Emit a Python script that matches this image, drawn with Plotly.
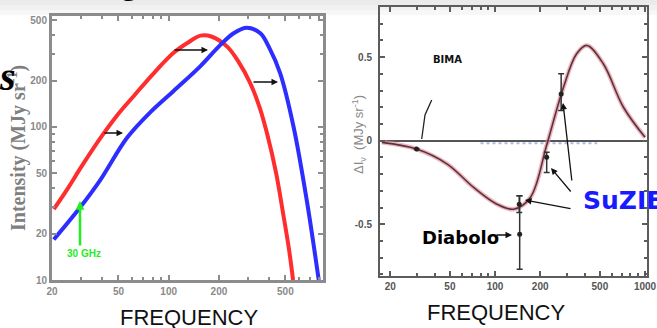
import math
import plotly.graph_objects as go

W, H = 657, 328

# ---------------- data: left panel (intensity spectra) ----------------
freq_red = [20.5, 25, 30, 40, 50, 62, 80, 107, 130, 155, 180, 224, 260, 308, 350, 388, 440, 488, 525, 556]
int_red = [29, 40, 55, 88, 122, 160, 220, 305, 355, 395, 390, 335, 270, 193, 135, 91, 50, 26, 16, 10]

freq_blue = [20.5, 29.6, 38.9, 56.3, 77.7, 107, 155, 202, 245, 294, 354, 400, 465, 560, 672, 792]
int_blue = [18.4, 30, 45, 85, 125, 172, 250, 340, 410, 445, 410, 330, 225, 100, 33, 10]

left_xticks = [20, 50, 100, 200, 500]
left_xminor = [30, 40, 60, 70, 80, 90, 300, 400, 600, 700, 800]
left_yticks = [10, 20, 50, 100, 200, 500]
left_yminor = [30, 40, 60, 70, 80, 90, 300, 400]

# ---------------- data: right panel (SZ decrement) ----------------
freq_sz = [17.6, 30, 48, 72, 103, 133, 172, 222, 286, 350, 410, 527, 718, 1000]
dI_sz = [-0.01, -0.05, -0.14, -0.28, -0.38, -0.41, -0.34, -0.02, 0.32, 0.52, 0.57, 0.46, 0.20, 0.02]

freq_kin = [80, 480]
dI_kin = [-0.015, -0.015]

obs_freq = [30, 146, 145, 221, 276]
obs_val = [-0.05, -0.56, -0.38, -0.10, 0.28]
obs_plus = [0.0, 0.23, 0.05, 0.03, 0.12]
obs_minus = [0.0, 0.21, 0.05, 0.09, 0.10]

right_xticks = [20, 50, 100, 200, 500, 1000]
right_xminor = [30, 40, 60, 70, 80, 90, 300, 400, 600, 700, 800, 900]
right_yticks = [-0.5, 0, 0.5]
right_yminor = [-0.8, -0.7, -0.6, -0.4, -0.3, -0.2, -0.1, 0.1, 0.2, 0.3, 0.4, 0.6, 0.7, 0.8]


def px(x):
    return x / W


def py(y):
    return 1 - y / H


fig = go.Figure()

# left curves
fig.add_trace(go.Scatter(x=freq_red, y=int_red, mode="lines", line=dict(color="rgb(255,45,45)", width=4, shape="spline"),
                         xaxis="x", yaxis="y"))
fig.add_trace(go.Scatter(x=freq_blue, y=int_blue, mode="lines", line=dict(color="rgb(45,45,255)", width=4, shape="spline"),
                         xaxis="x", yaxis="y"))

# right curves
fig.add_trace(go.Scatter(x=freq_kin, y=dI_kin, mode="lines", line=dict(color="rgba(110,130,200,0.55)", width=2, dash="dot"),
                         xaxis="x2", yaxis="y2"))
fig.add_trace(go.Scatter(x=freq_sz, y=dI_sz, mode="lines", line=dict(color="rgba(230,150,165,0.7)", width=4.5, shape="spline"),
                         xaxis="x2", yaxis="y2"))
fig.add_trace(go.Scatter(x=freq_sz, y=dI_sz, mode="lines", line=dict(color="#5a3438", width=1.6, shape="spline"),
                         xaxis="x2", yaxis="y2"))
fig.add_trace(go.Scatter(x=obs_freq, y=obs_val, mode="markers",
                         marker=dict(color="#222", size=5),
                         error_y=dict(type="data", symmetric=False, array=obs_plus, arrayminus=obs_minus,
                                      color="#333", thickness=1.5, width=3),
                         xaxis="x2", yaxis="y2"))

axis_left_common = dict(type="log", showgrid=False, zeroline=False, showline=True, linecolor="#8c8c8c", linewidth=3,
                        mirror="allticks", ticks="inside", ticklen=5, tickcolor="#8c8c8c", tickwidth=1.5,
                        automargin=False,
                        tickfont=dict(family="Liberation Sans", size=10, color="#8a8a8a", weight="bold"))
axis_right_common = dict(showgrid=False, showline=True, linecolor="#5c5c5c", linewidth=2,
                         mirror="allticks", ticks="inside", ticklen=5, tickcolor="#5c5c5c", tickwidth=1.5,
                         automargin=False,
                         tickfont=dict(family="Liberation Sans", size=10, color="#555", weight="bold"))

fig.update_layout(
    width=W, height=H, margin=dict(l=0, r=0, t=0, b=0, autoexpand=False),
    paper_bgcolor="white", plot_bgcolor="white", showlegend=False,
    xaxis=dict(domain=[px(52), px(323)], range=[math.log10(20), math.log10(840)], anchor="y",
               tickvals=left_xticks, ticktext=[str(v) for v in left_xticks],
               minor=dict(tickvals=left_xminor, ticks="inside", ticklen=3, tickcolor="#8c8c8c"),
               **axis_left_common),
    yaxis=dict(domain=[py(280), py(16)], range=[1, math.log10(531)], anchor="x",
               tickvals=left_yticks, ticktext=[str(v) for v in left_yticks],
               minor=dict(tickvals=left_yminor, ticks="inside", ticklen=3, tickcolor="#8c8c8c"),
               **axis_left_common),
    xaxis2=dict(domain=[px(380), px(647)], type="log", range=[math.log10(17.1), math.log10(1031)], anchor="y2",
                tickvals=right_xticks, ticktext=[str(v) for v in right_xticks], zeroline=False,
                minor=dict(tickvals=right_xminor, ticks="inside", ticklen=3, tickcolor="#5c5c5c"),
                **axis_right_common),
    yaxis2=dict(domain=[py(276), py(7)], range=[-0.81, 0.8], anchor="x2",
                tickvals=right_yticks, ticktext=["-0.5", "0", "0.5"], ticklabelstandoff=4,
                zeroline=True, zerolinecolor="#555", zerolinewidth=2,
                minor=dict(tickvals=right_yminor, ticks="inside", ticklen=3, tickcolor="#5c5c5c"),
                **axis_right_common),
)

ann = []


def label(x, y, text, font, angle=0, xanchor="center", yanchor="middle"):
    return dict(x=px(x), y=py(y), xref="paper", yref="paper", text=text, showarrow=False,
                xanchor=xanchor, yanchor=yanchor, textangle=angle, font=font)


ann.append(label(189, 317, "FREQUENCY", dict(family="Liberation Sans", size=22, color="#111")))
ann.append(label(496, 312, "FREQUENCY", dict(family="Liberation Sans", size=22, color="#111")))
ann.append(label(17, 148, "Intensity (MJy sr<sup>-1</sup>)",
                 dict(family="Liberation Serif", size=20, color="#808080", weight="bold"), angle=-90))
ann.append(label(7, 76, "<b><i>s</i></b>", dict(family="Liberation Serif", size=40, color="#000")))
ann.append(label(129, 3, "<b>g</b>", dict(family="Liberation Sans", size=36, color="#000"), yanchor="bottom"))
ann.append(label(359, 135, "ΔI<sub>ν</sub>  (MJy sr<sup>-1</sup>)",
                 dict(family="Liberation Sans", size=13, color="#888"), angle=-90))
ann.append(label(447, 60, "BIMA", dict(family="DejaVu Sans", size=10, color="#111", weight="bold")))
ann.append(label(460, 237, "Diabolo", dict(family="DejaVu Sans", size=18, color="#000", weight="bold")))
ann.append(label(581, 200, "SuZIE", dict(family="DejaVu Sans", size=25, color="#1a1aff", weight="bold"),
                 xanchor="left"))
ann.append(label(84, 253, "30 GHz", dict(family="Liberation Sans", size=10, color="#22ee22", weight="bold")))


# arrows (head position, tail position in pixels)
def arrow(hx, hy, tx, ty, color="#111", width=1.3, head=2, size=1.0):
    return dict(x=px(hx), y=py(hy), xref="paper", yref="paper", ax=tx - hx, ay=ty - hy, axref="pixel", ayref="pixel",
                xanchor="center", yanchor="middle",
                text="", showarrow=True, arrowhead=head, arrowsize=size, arrowwidth=width, arrowcolor=color)


ann.append(arrow(123, 133, 103, 133))
ann.append(arrow(208, 50, 173, 50))
ann.append(arrow(278, 82, 252, 82))
ann.append(arrow(80, 201, 80, 247, color="#22ee22", width=2.5, size=0.7))
ann.append(arrow(563, 103, 572, 182))
ann.append(arrow(551, 168, 572, 193))
ann.append(arrow(525, 200, 572, 209))
ann.append(arrow(512, 235, 495, 235))
fig.update_layout(annotations=ann)

# BIMA pointer line
fig.add_shape(type="path", xref="paper", yref="paper",
              path=f"M {px(431.7)},{py(100)} L {px(425)},{py(115)} L {px(421.7)},{py(139)}",
              line=dict(color="#222", width=1.3))

# faint slide background at top
for i, c in enumerate(["#ebebeb", "#f1f1f1", "#f7f7f7"]):
    fig.add_shape(type="rect", xref="paper", yref="paper", x0=0, x1=1, y0=py(5 * (i + 1)), y1=py(5 * i),
                  fillcolor=c, line=dict(width=0), layer="below")

fig.write_html("out.html", config={"displayModeBar": False},
               post_script="document.body.style.margin='0px';document.body.style.overflow='hidden';")
